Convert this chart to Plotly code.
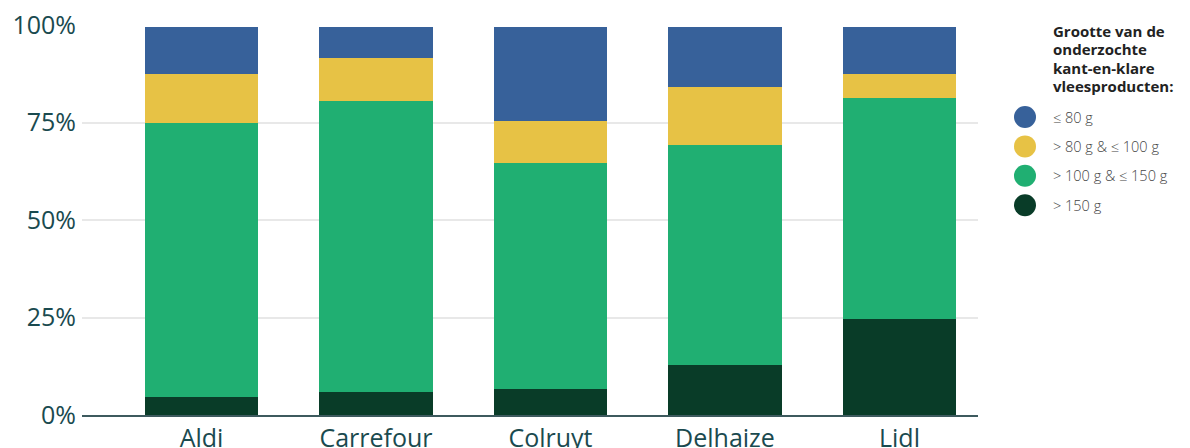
import plotly.graph_objects as go

# ---- data ----
categories = ["Aldi", "Carrefour", "Colruyt", "Delhaize", "Lidl"]
series_names = ["> 150 g", "> 100 g & ≤ 150 g", "> 80 g & ≤ 100 g", "≤ 80 g"]
gt150 = [4.6, 5.9, 6.7, 12.8, 24.6]
g100_150 = [70.3, 74.6, 57.9, 56.4, 56.7]
g80_100 = [12.5, 11.0, 10.8, 14.9, 6.1]
le80 = [12.1, 8.0, 24.1, 15.4, 12.1]
y_tickvals = [0, 25, 50, 75, 100]
y_ticktext = ["0%", "25%", "50%", "75%", "100%"]
legend_title_lines = ["Grootte van de", "onderzochte", "kant-en-klare", "vleesproducten:"]

colors = {
    "> 150 g": "#093C28",
    "> 100 g & ≤ 150 g": "#20AF72",
    "> 80 g & ≤ 100 g": "#E7C245",
    "≤ 80 g": "#37619A",
}
values = {
    "> 150 g": gt150,
    "> 100 g & ≤ 150 g": g100_150,
    "> 80 g & ≤ 100 g": g80_100,
    "≤ 80 g": le80,
}

W, H = 1190, 448
ML, MR, MT, MB = 82, 212, 25, 33
PW = W - ML - MR
PH = H - MT - MB

fig = go.Figure()
for name in series_names:
    fig.add_trace(go.Bar(
        x=categories, y=values[name], name=name,
        marker=dict(color=colors[name], line=dict(width=0)),
        width=0.648, showlegend=False, hoverinfo="x+y+name",
    ))

tick_color = "#1A4A4F"
fig.update_layout(
    width=W, height=H,
    margin=dict(l=ML, r=MR, t=MT, b=MB),
    barmode="stack",
    plot_bgcolor="white", paper_bgcolor="white",
    font=dict(family="Open Sans", color=tick_color),
    xaxis=dict(
        range=[-0.685, 4.45], showgrid=False, showline=True,
        linecolor="#3D5A5E", linewidth=1.5,
        tickfont=dict(size=25, color=tick_color), ticks="",
        fixedrange=True, automargin=False,
    ),
    yaxis=dict(
        range=[0, 100], tickvals=y_tickvals, ticktext=y_ticktext,
        showgrid=True, gridcolor="#E8E8E8", gridwidth=1.5,
        zeroline=False, tickfont=dict(size=25, color=tick_color),
        ticks="", ticklabelstandoff=5, fixedrange=True, automargin=False,
    ),
)

# ---- manual legend (circle markers + labels) ----
def px_x(px):
    return (px - ML) / PW

def px_y(py):
    return 1 - (py - MT) / PH

title_y0 = 31
title_step = 18.3
for j, line in enumerate(legend_title_lines):
    fig.add_annotation(
        xref="paper", yref="paper", x=px_x(1051), y=px_y(title_y0 + j * title_step),
        xanchor="left", yanchor="middle", align="left", showarrow=False,
        text="<b>" + line + "</b>",
        font=dict(family="Open Sans", size=15, color="#222222"),
    )
legend_order = ["≤ 80 g", "> 80 g & ≤ 100 g", "> 100 g & ≤ 150 g", "> 150 g"]
legend_y0 = 117
legend_step = 29.4
r = 11
for i, name in enumerate(legend_order):
    cy = legend_y0 + i * legend_step
    fig.add_shape(
        type="circle", xref="paper", yref="paper",
        x0=px_x(1025 - r), x1=px_x(1025 + r),
        y0=px_y(cy + r), y1=px_y(cy - r),
        fillcolor=colors[name], line=dict(width=0),
    )
    fig.add_annotation(
        xref="paper", yref="paper", x=px_x(1051), y=px_y(cy),
        xanchor="left", yanchor="middle", showarrow=False,
        text=name, font=dict(family="Open Sans", size=14.5, color="#444444", weight=300),
    )

fig.write_html("out.html")
